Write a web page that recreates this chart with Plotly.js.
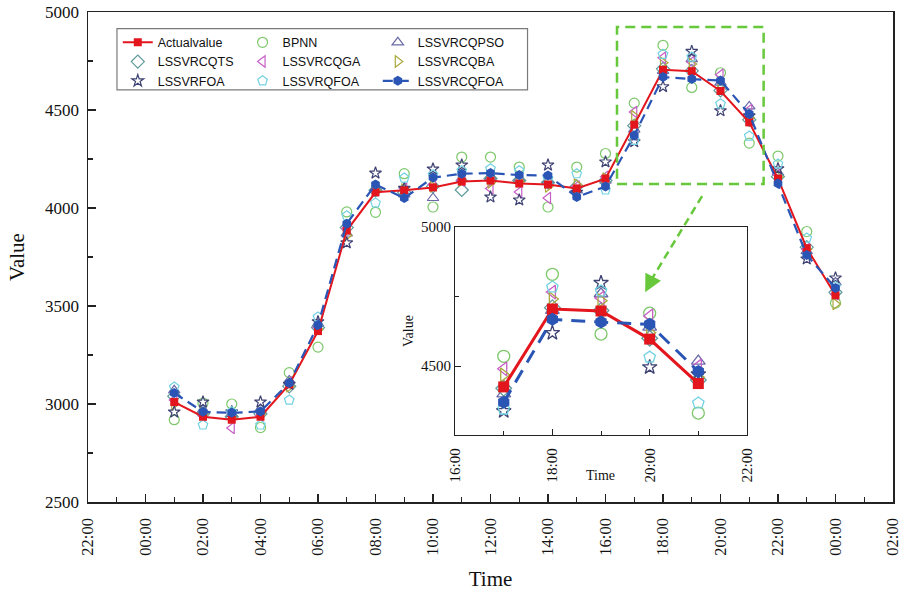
<!DOCTYPE html>
<html><head><meta charset="utf-8">
<script src="https://cdn.plot.ly/plotly-3.0.1.min.js"></script>
<style>html,body{margin:0;padding:0;background:#fff;}#chart{width:906px;height:598px;}</style>
</head><body><div id="chart"></div>
<script>
// Time of each sample, in hours elapsed since 22:00 of the previous day (01:00 ... 00:00)
const timeLabels = ["01:00","02:00","03:00","04:00","05:00","06:00","07:00","08:00","09:00","10:00","11:00","12:00","13:00","14:00","15:00","16:00","17:00","18:00","19:00","20:00","21:00","22:00","23:00","00:00"];
const xHours = [3,4,5,6,7,8,9,10,11,12,13,14,15,16,17,18,19,20,21,22,23,24,25,26];

const actualValue = [3010,2935,2920,2935,3100,3372,3885,4080,4090,4105,4135,4140,4125,4120,4100,4150,4425,4705,4698,4597,4437,4150,3795,3555];
const bpnn        = [2920,3005,3000,2880,3160,3290,3980,3978,4175,4005,4260,4260,4209,4005,4209,4278,4535,4830,4615,4690,4331,4265,3880,3515];
const lssvrcqpso  = [3070,2970,2950,2975,3120,3410,3870,4100,4070,4051,4150,4160,4150,4140,4090,4140,4400,4700,4760,4640,4518,4180,3780,3620];
const lssvrcqts   = [3040,2950,2935,2950,3090,3390,3900,4090,4080,4110,4092,4150,4140,4130,4110,4140,4420,4710,4700,4600,4450,4160,3800,3570];
const lssvrcqga   = [3020,2940,2878,2940,3110,3390,3895,4090,4100,4120,4140,4100,4082,4051,4110,4160,4490,4766,4745,4680,4500,4170,3790,3560];
const lssvrcqba   = [3000,2950,2930,2950,3090,3380,3860,4090,4095,4110,4140,4130,4135,4110,4120,4150,4468,4741,4735,4620,4460,4160,3790,3510];
const lssvrfoa    = [2959,3010,2960,3010,3100,3420,3822,4178,4100,4199,4219,4056,4041,4219,4080,4235,4338,4619,4799,4496,4470,4200,3740,3643];
const lssvrqfoa   = [3087,2893,2960,2893,3020,3444,3960,4026,4153,4170,4190,4200,4190,4150,4175,4092,4345,4784,4770,4532,4367,4225,3847,3600];
const lssvrcqfoa  = [3056,2960,2955,2962,3107,3403,3920,4120,4051,4155,4175,4178,4168,4166,4056,4110,4370,4668,4658,4650,4480,4125,3760,3592];

const mainTickVals = [0,2,4,6,8,10,12,14,16,18,20,22,24,26,28];
const mainTickText = ["22:00","00:00","02:00","04:00","06:00","08:00","10:00","12:00","14:00","16:00","18:00","20:00","22:00","00:00","02:00"];
const yTickVals = [2500,3000,3500,4000,4500,5000];

const insetStart = 16, insetEnd = 21; // 17:00 .. 21:00
const insetTickVals = [18,20,22,24];
const insetTickText = ["16:00","18:00","20:00","22:00"];
const insetYTickVals = [4500,5000];

const openSeries = [
  {name:"BPNN", y:bpnn, symbol:"circle-open", color:"#7dc86a", legend:"legend2", rank:1, size:10},
  {name:"LSSVRCQPSO", y:lssvrcqpso, symbol:"triangle-up-open", color:"#6a6aa8", legend:"legend3", rank:1, size:10},
  {name:"LSSVRCQTS", y:lssvrcqts, symbol:"diamond-open", color:"#5f9a9a", legend:"legend", rank:2, size:10},
  {name:"LSSVRCQGA", y:lssvrcqga, symbol:"triangle-left-open", color:"#c65ec6", legend:"legend2", rank:2, size:10},
  {name:"LSSVRCQBA", y:lssvrcqba, symbol:"triangle-right-open", color:"#aaa83c", legend:"legend3", rank:2, size:10},
  {name:"LSSVRFOA", y:lssvrfoa, symbol:"star-open", color:"#3e4272", legend:"legend", rank:3, size:9},
  {name:"LSSVRQFOA", y:lssvrqfoa, symbol:"pentagon-open", color:"#72d2e2", legend:"legend2", rank:3, size:10}
];

const traces = [];
openSeries.forEach(s => {
  traces.push({x:xHours, y:s.y, name:s.name, type:'scatter', mode:'markers', legend:s.legend, legendrank:s.rank,
    marker:{symbol:s.symbol, size:s.size, color:s.color, line:{width:1.2, color:s.color}}});
});
traces.push({x:xHours, y:actualValue, name:"Actualvalue", type:'scatter', mode:'lines+markers', legend:'legend', legendrank:1,
  line:{color:'#e3161d', width:2}, marker:{symbol:'square', size:8, color:'#e3161d'}});
traces.push({x:xHours, y:lssvrcqfoa, name:"LSSVRCQFOA", type:'scatter', mode:'lines+markers', legend:'legend3', legendrank:3,
  line:{color:'#2a55b5', width:2.2, dash:'10px,6px'}, marker:{symbol:'hexagon', size:10, color:'#2a55b5'}});

// inset traces
const xi = xHours.slice(insetStart, insetEnd);
openSeries.forEach(s => {
  traces.push({x:xi, y:s.y.slice(insetStart, insetEnd), xaxis:'x2', yaxis:'y2', showlegend:false, type:'scatter', mode:'markers',
    marker:{symbol:s.symbol, size:s.size + 2, color:s.color, line:{width:1.3, color:s.color}}});
});
traces.push({x:xi, y:actualValue.slice(insetStart, insetEnd), xaxis:'x2', yaxis:'y2', showlegend:false, type:'scatter', mode:'lines+markers',
  line:{color:'#e3161d', width:3}, marker:{symbol:'square', size:11, color:'#e3161d'}});
traces.push({x:xi, y:lssvrcqfoa.slice(insetStart, insetEnd), xaxis:'x2', yaxis:'y2', showlegend:false, type:'scatter', mode:'lines+markers',
  line:{color:'#2a55b5', width:3, dash:'14px,9px'}, marker:{symbol:'hexagon', size:13, color:'#2a55b5'}});

const serif = 'Liberation Serif, Times New Roman, serif';
const legendCommon = {font:{family:'Liberation Sans, Arial, sans-serif', size:12.5, color:'#111'}, bgcolor:'rgba(0,0,0,0)', borderwidth:0,
  xanchor:'left', yanchor:'top', orientation:'v', tracegroupgap:0, itemwidth:30};

const layout = {
  width:906, height:598,
  margin:{l:88, r:13, t:12, b:96},
  paper_bgcolor:'#fff', plot_bgcolor:'#fff',
  font:{family:serif, color:'#111'},
  showlegend:true,
  legend:Object.assign({x:0.037, y:0.968}, legendCommon),
  legend2:Object.assign({x:0.192, y:0.968}, legendCommon),
  legend3:Object.assign({x:0.36, y:0.968}, legendCommon),
  xaxis:{domain:[0,1], range:[0,28], tickmode:'array', tickvals:mainTickVals, ticktext:mainTickText, tickangle:-90,
    ticks:'inside', ticklen:8, tickwidth:1.2, tickcolor:'#222', ticklabelstandoff:8,
    minor:{tickmode:'linear', tick0:0, dtick:1, ticks:'inside', ticklen:5, tickwidth:1.2, tickcolor:'#222', showgrid:false},
    showline:true, mirror:true, linecolor:'#222', linewidth:1.5, showgrid:false, zeroline:false,
    tickfont:{family:serif, size:16.5, color:'#111'}, title:{text:'Time', font:{family:serif, size:21, color:'#111'}, standoff:16}},
  yaxis:{domain:[0,1], range:[2500,5000], tickmode:'array', tickvals:yTickVals,
    ticks:'inside', ticklen:8, tickwidth:1.2, tickcolor:'#222', ticklabelstandoff:4,
    minor:{tickmode:'linear', tick0:2500, dtick:250, ticks:'inside', ticklen:5, tickwidth:1.2, tickcolor:'#222', showgrid:false},
    showline:true, mirror:true, linecolor:'#222', linewidth:1.5, showgrid:false, zeroline:false,
    tickfont:{family:serif, size:17, color:'#111'}, title:{text:'Value', font:{family:serif, size:21, color:'#111'}, standoff:14}},
  xaxis2:{domain:[0.456,0.8186], anchor:'y2', range:[18,24], tickmode:'array', tickvals:insetTickVals, ticktext:insetTickText, tickangle:-90,
    ticks:'inside', ticklen:6, tickwidth:1, tickcolor:'#222', ticklabelstandoff:6, ticklabeloverflow:'allow',
    minor:{tickmode:'linear', tick0:18, dtick:1, ticks:'inside', ticklen:4, tickwidth:1, tickcolor:'#222', showgrid:false},
    showline:true, mirror:true, linecolor:'#222', linewidth:1.2, showgrid:false, zeroline:false,
    tickfont:{family:serif, size:15, color:'#111'}},
  yaxis2:{domain:[0.1367,0.5612], anchor:'x2', range:[4252,5000], tickmode:'array', tickvals:insetYTickVals,
    ticks:'inside', ticklen:6, tickwidth:1, tickcolor:'#222',
    minor:{tickmode:'linear', tick0:4250, dtick:250, ticks:'inside', ticklen:4, tickwidth:1, tickcolor:'#222', showgrid:false},
    showline:true, mirror:true, linecolor:'#222', linewidth:1.2, showgrid:false, zeroline:false,
    tickfont:{family:serif, size:15, color:'#111'}, title:{text:'Value', font:{family:serif, size:14, color:'#111'}, standoff:4}},
  shapes:[
    {type:'rect', xref:'paper', yref:'paper', x0:0.036, x1:0.546, y0:0.841, y1:0.966, line:{color:'#7a7a7a', width:1.2}, fillcolor:'rgba(0,0,0,0)'},
    {type:'rect', xref:'x', yref:'y', x0:18.4, x1:23.5, y0:4122, y1:4923, line:{color:'#66c83a', width:2.5, dash:'10px,6px'}},
    {type:'line', xref:'x', yref:'y', x0:21.36, y0:4061, x1:19.62, y1:3640, line:{color:'#66c83a', width:2.5, dash:'8px,5px'}}
  ],
  annotations:[
    {xref:'x', yref:'y', x:19.38, y:3570, axref:'x', ayref:'y', ax:19.66, ay:3650, text:'', showarrow:true,
      arrowhead:2, arrowsize:1.4, arrowwidth:2.5, arrowcolor:'#66c83a', standoff:0},
    {xref:'paper', yref:'paper', x:0.637, y:0.035, text:'Time', showarrow:false, font:{family:serif, size:14, color:'#111'}}
  ]
};

Plotly.newPlot('chart', traces, layout, {displayModeBar:false, staticPlot:true});
</script></body></html>
